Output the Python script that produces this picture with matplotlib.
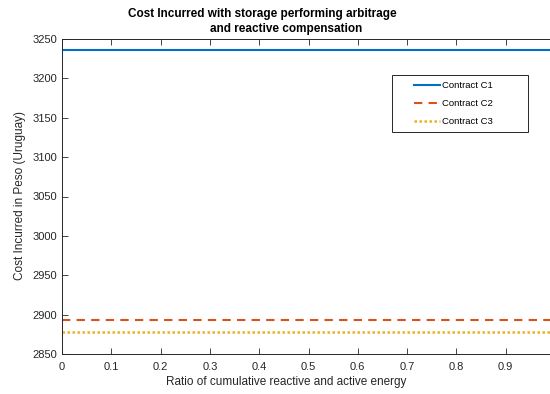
import numpy as np
import matplotlib.pyplot as plt
from matplotlib.patches import Rectangle

plt.rcParams['font.family'] = ['Liberation Sans', 'DejaVu Sans']

ratio = np.arange(0, 1.0, 0.01)
c1 = np.full(ratio.size, 3236.0)
c2 = np.full(ratio.size, 2893.0)
c3 = np.full(ratio.size, 2878.0)

labels = ['Contract C1', 'Contract C2', 'Contract C3']
colors = ['#0072BD', '#D95319', '#EDB120']

fig = plt.figure(figsize=(5.5, 3.94), dpi=100)
ax = fig.add_axes([62 / 550, 1 - 354 / 394, (555 - 62) / 550, (354 - 39) / 394])

ax.plot(ratio, c1, ls='-', c=colors[0], lw=1.5, label=labels[0])
ax.plot(ratio, c2, ls=(0, (4, 3)), c=colors[1], lw=1.5, label=labels[1])
ax.plot(ratio, c3, ls=(0, (1, 1)), c=colors[2], lw=1.8, label=labels[2])

ax.set_xlim(0, 1)
ax.set_ylim(2850, 3250)
ax.set_xticks(np.arange(0, 1.0, 0.1))
ax.set_xticklabels(['0', '0.1', '0.2', '0.3', '0.4', '0.5', '0.6', '0.7', '0.8', '0.9'])
ax.set_yticks(np.arange(2850, 3251, 50))
ax.tick_params(direction='in', top=True, right=False, labelsize=8, length=4, width=0.6, colors='#262626')
ax.tick_params(axis='x', pad=6)
for s in ax.spines.values():
    s.set_linewidth(0.7)
    s.set_color('#262626')

fig.text(286 / 550, 1 - 382 / 394, 'Ratio of cumulative reactive and active energy',
         ha='center', va='center', fontsize=8.5, color='#262626')
fig.text(20 / 550, 1 - 196 / 394, 'Cost Incurred in Peso (Uruguay)', rotation=90,
         ha='center', va='center', fontsize=8.5, color='#262626')
fig.text(262 / 550, 1 - 14 / 394, 'Cost Incurred with storage performing arbitrage',
         ha='center', va='center', fontsize=8.5, fontweight='bold')
fig.text(286 / 550, 1 - 29 / 394, 'and reactive compensation',
         ha='center', va='center', fontsize=8.5, fontweight='bold')

# legend box drawn separately so its size matches
ax.add_patch(Rectangle((392 / 550, 1 - 132 / 394), 136 / 550, 57 / 394,
                       transform=fig.transFigure, facecolor='white',
                       edgecolor='#262626', lw=0.7, zorder=4, clip_on=False))
leg = ax.legend(loc='upper left', bbox_to_anchor=(412 / 550, 1 - 79 / 394),
                bbox_transform=fig.transFigure, fontsize=6.8, frameon=False,
                handlelength=2.8, handletextpad=0.2, borderpad=0.2,
                labelspacing=0.95, borderaxespad=0)
leg.set_zorder(5)

fig.savefig('out.png', dpi=100)
